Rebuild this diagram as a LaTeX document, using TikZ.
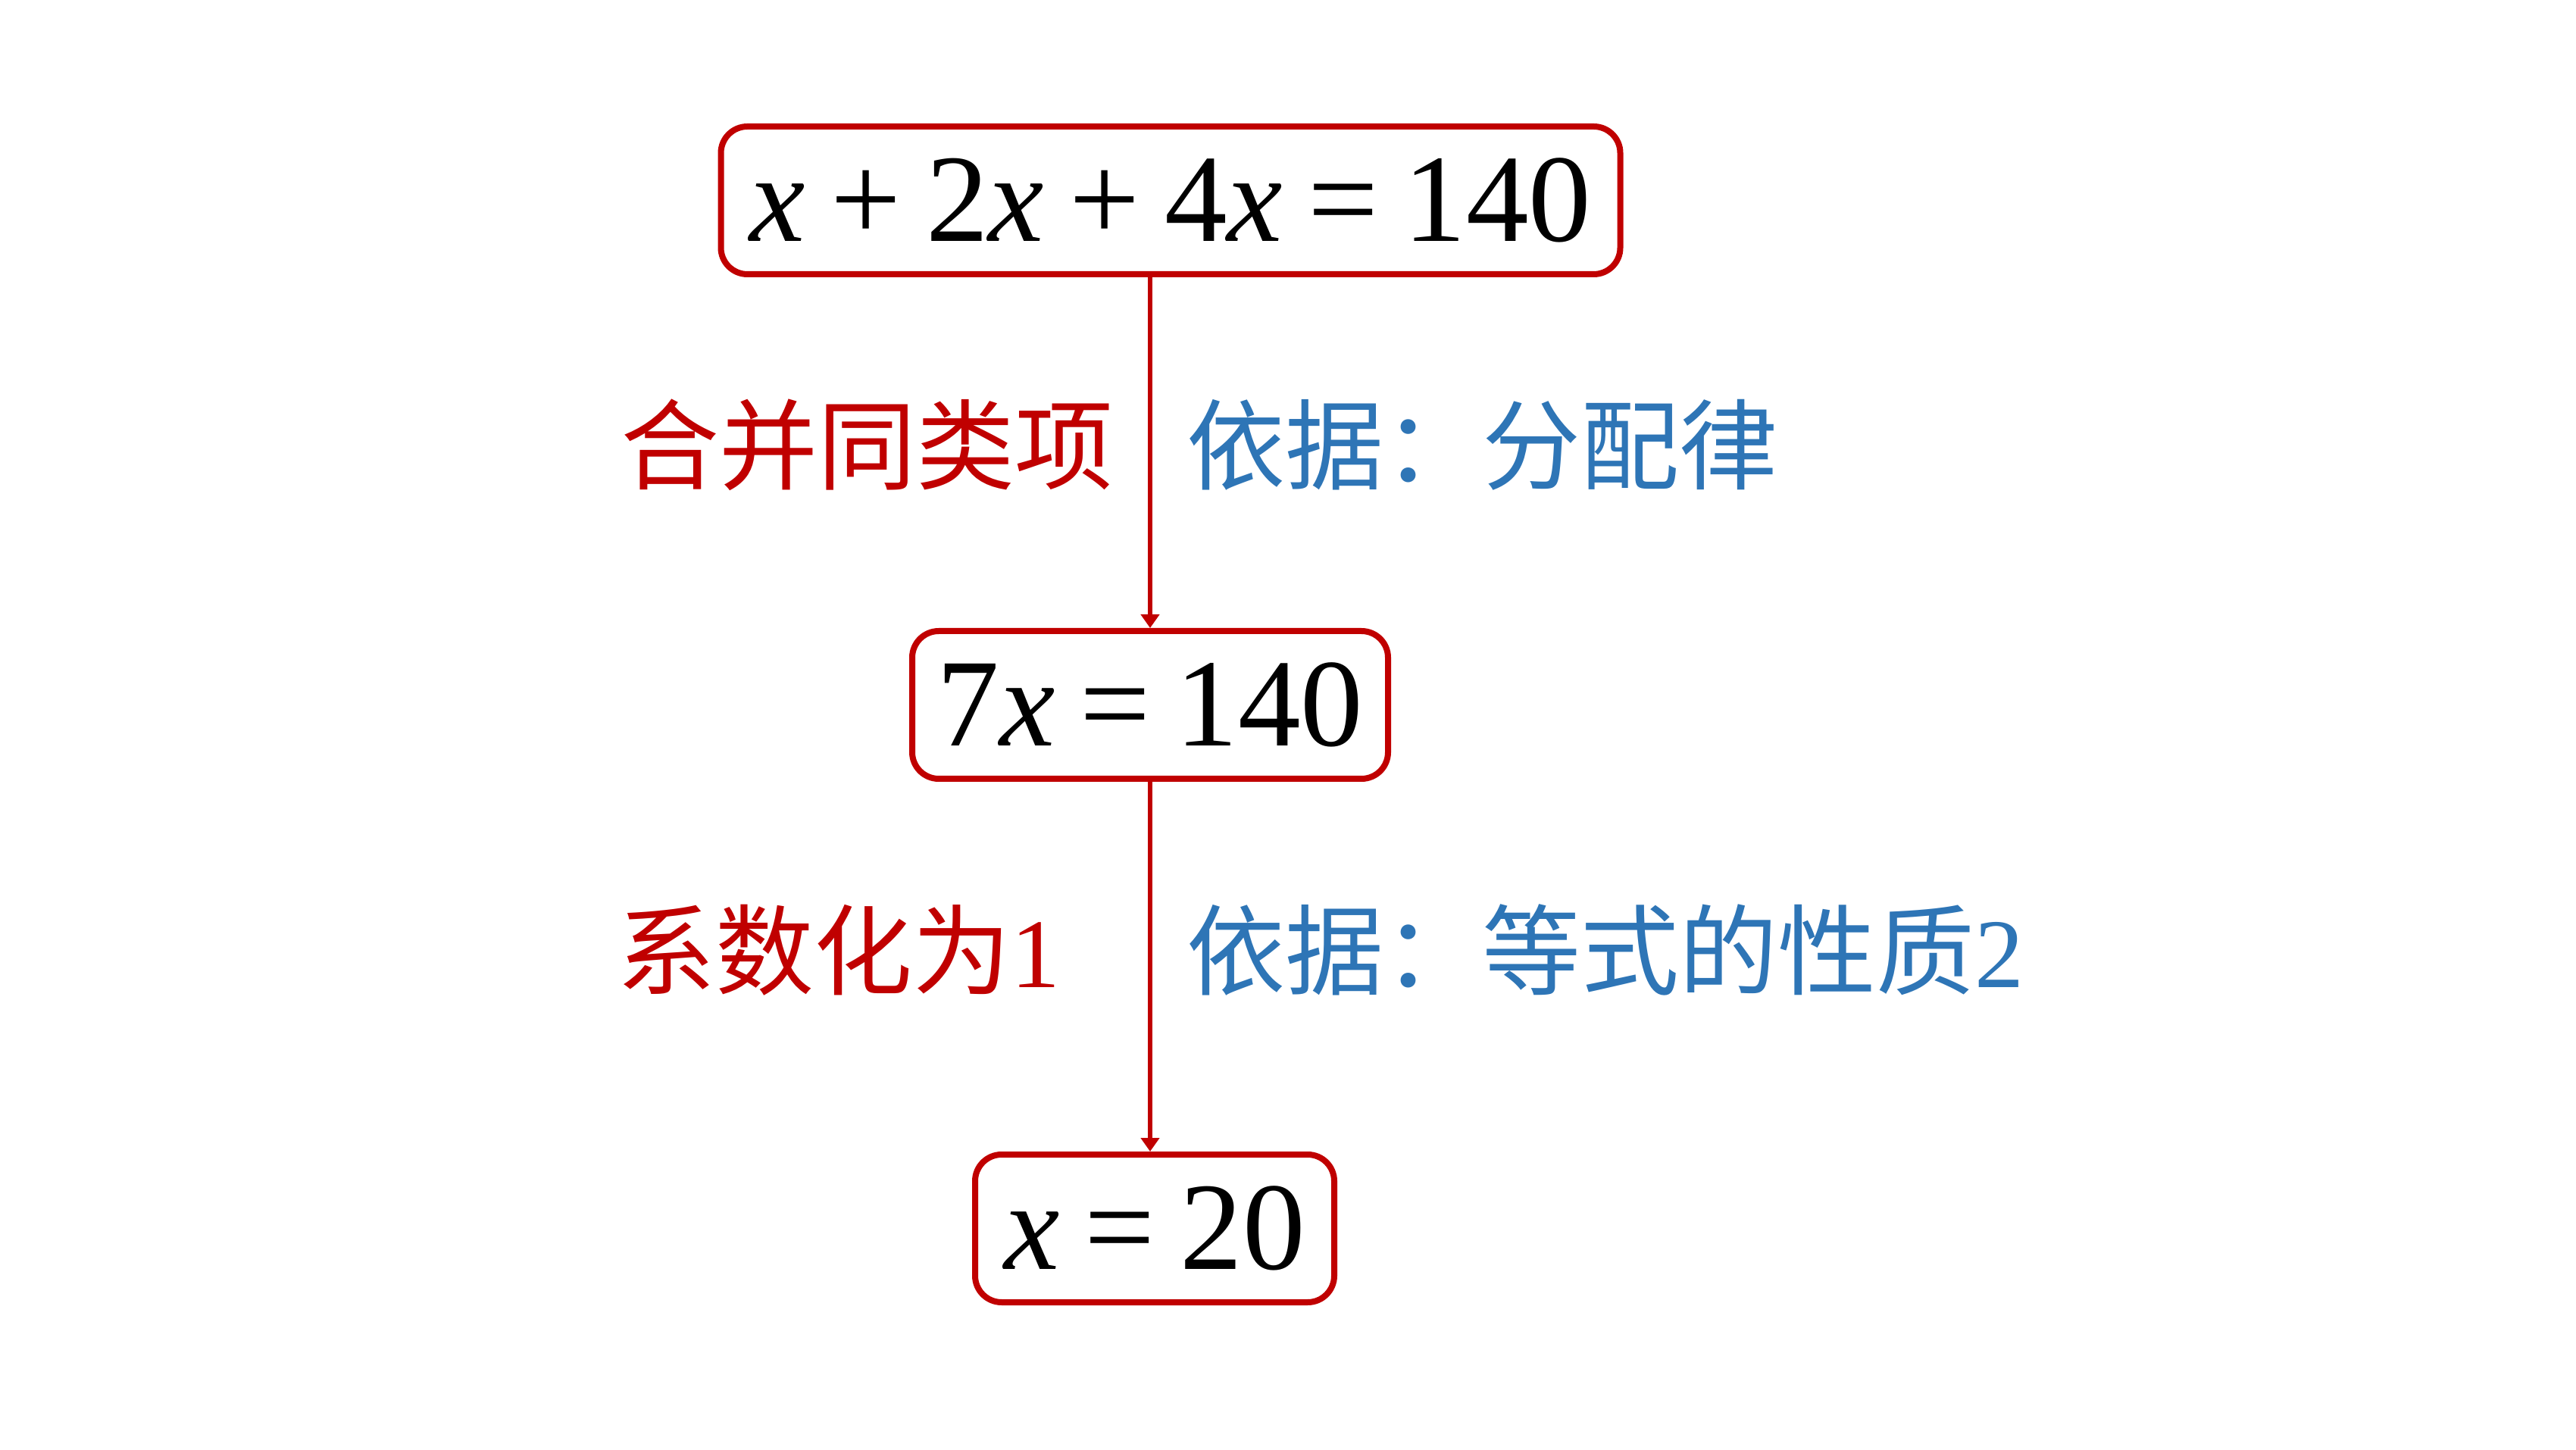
\documentclass[tikz,border=0pt]{standalone}
\usepackage{fontspec}
\setmainfont{Liberation Serif}
\newfontfamily\cjk{Noto Sans CJK SC}
\usetikzlibrary{arrows.meta}

\definecolor{stepred}{RGB}{192,0,0}
\definecolor{whyblue}{RGB}{46,117,182}
\newcommand{\vx}{\textit{x}}
\newcommand{\opgap}{\hspace{0.2em}}

\begin{document}
\begin{tikzpicture}[
    eqbox/.style={draw=stepred, line width=0.08cm, rounded corners=0.35cm,
      fill=white, minimum height=1.95cm, inner xsep=0.3cm,
      font=\fontsize{47pt}{50pt}\selectfont},
    flow/.style={draw=stepred, line width=0.06cm,
      -{Triangle[length=0.18cm,width=0.24cm]}},
    how/.style={text=stepred, anchor=east, inner sep=0, xshift=-0.45cm,
      yshift=0.1cm, font=\fontsize{37pt}{40pt}\selectfont\cjk},
    why/.style={text=whyblue, anchor=west, inner sep=0, xshift=0.45cm,
      yshift=0.1cm, font=\fontsize{37pt}{40pt}\selectfont\cjk}]
  \useasboundingbox (0,0) rectangle (34,19.13);

  \node[eqbox, minimum width=11.87cm] (sum) at (15.45,16.485)
    {\vx\opgap+\opgap2\vx\opgap+\opgap4\vx\opgap=\opgap140};
  \node[eqbox, minimum width=6.28cm] (seven) at (15.18,9.825)
    {7\vx\opgap=\opgap140};
  \node[eqbox, minimum width=4.74cm] (root) at (15.24,2.915)
    {\vx\opgap=\opgap20};

  \draw[flow] (seven.north |- sum.south) -- node[how] {合并同类项}
    node[why] {依据：分配律} (seven.north);
  \draw[flow] (seven.south) -- node[how, xshift=-0.7cm, yshift=0.12cm] {系数化为{\rmfamily 1}}
    node[why, yshift=0.12cm] {依据：等式的性质{\rmfamily 2}} (seven.south |- root.north);

\end{tikzpicture}
\end{document}
